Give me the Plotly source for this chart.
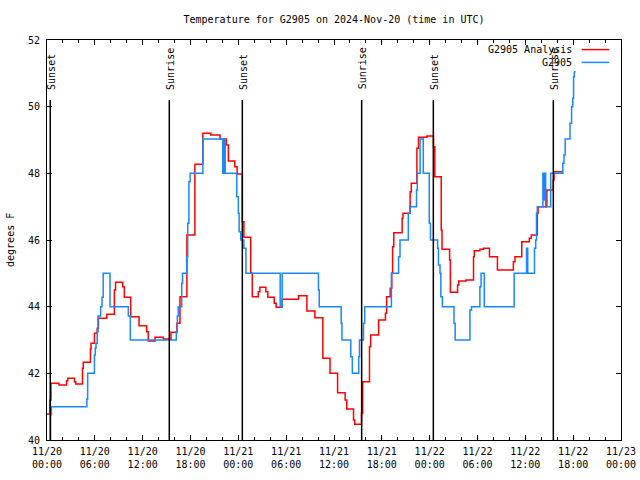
import pandas as pd
import plotly.graph_objects as go

# ---------------- data ----------------
START = "2024-11-20 00:00"
END = "2024-11-23 00:00"

# hours since 2024-11-20 00:00 UTC
red_name = "G2905 Analysis"
red_hours = [0.0, 0.38, 0.5, 1.5, 2.45, 2.6, 3.45, 3.6, 4.45, 4.55, 5.45, 5.52, 5.95, 6.3, 6.45,
             7.5, 8.45, 8.6, 9.5, 9.7, 10.5, 11.55, 12.5, 12.7, 13.55, 14.6, 15.55, 16.3, 16.68,
             17.55, 18.55, 19.55, 20.55, 21.7, 22.5, 22.75, 23.55, 23.85, 24.5, 24.7, 25.55, 25.75,
             26.5, 26.7, 27.45, 27.7, 28.5, 28.75, 29.5, 31.55, 32.6, 33.6, 34.6, 35.5, 36.45,
             37.4, 37.6, 38.45, 38.6, 39.45, 39.6, 40.45, 40.6, 41.6, 42.45, 42.6, 43.05, 43.25,
             43.35, 43.5, 44.55, 44.65, 45.55, 45.7, 46.4, 46.6, 47.65, 48.48, 48.65, 49.45, 49.55,
             50.5, 50.6, 51.5, 51.65, 52.56, 53.5, 53.6, 54.3, 54.75, 55.5, 56.5, 58.5, 58.7,
             59.55, 60.5, 60.75, 61.5, 61.6, 62.7, 63.5, 63.6, 64.6]
red_vals = [40.78, 41.2, 41.7, 41.65, 41.78, 41.85, 41.75, 41.68, 42.15, 42.33, 42.73, 42.9, 43.2, 43.35, 43.65,
            43.77, 44.5, 44.73, 44.6, 44.28, 43.7, 43.43, 43.25, 42.97, 43.08, 43.03, 43.23, 43.5, 44.3,
            46.15, 48.27, 49.2, 49.15, 49.03, 48.85, 48.37, 48.2, 47.98, 46.55, 46.08, 45.0, 44.3,
            44.45, 44.58, 44.45, 44.28, 44.1, 43.98, 44.22, 44.33, 43.87, 43.67, 42.45, 42.0, 41.42,
            41.2, 40.93, 40.6, 40.47, 40.8, 41.75, 42.8, 43.15, 43.6, 43.8, 44.3, 44.55, 45.0,
            45.8, 46.22, 46.65, 46.8, 47.45, 47.7, 48.75, 49.08, 49.12, 48.8, 47.9, 46.3, 45.72,
            45.4, 44.43, 44.65, 44.77, 44.8, 45.5, 45.68, 45.72, 45.75, 45.5, 45.1, 45.35, 45.5,
            45.95, 46.05, 46.15, 46.8, 47.0, 47.5, 47.8, 48.05, 48.05]

blue_name = "G2905"
blue_hours = [0.38, 0.45, 0.55, 5.0, 5.1, 5.95, 6.05, 6.15, 6.3, 6.4, 6.73, 6.9, 7.05, 7.9, 10.2, 10.45,
              16.22, 16.35, 16.47, 16.9, 17.0, 17.52, 17.65, 17.8, 17.95, 19.55, 22.05, 22.2, 22.35,
              23.8, 24.0, 24.1, 24.3, 24.7, 24.95, 29.25, 29.5, 34.05, 34.15, 36.9, 37.0, 38.1, 38.3,
              39.1, 39.2, 39.7, 39.85, 43.2, 44.1, 44.28, 45.32, 45.53, 46.35, 46.45, 46.8, 47.2,
              47.95, 48.1, 49.0, 49.1, 49.3, 49.4, 49.6, 51.05, 51.2, 53.05, 53.25, 54.3, 54.45,
              54.85, 58.6, 60.15, 60.3, 61.15, 61.3, 61.4, 61.5, 62.2, 62.3, 62.45, 62.55, 63.18,
              64.7, 64.85, 65.0, 65.6, 65.8, 65.95, 66.05, 66.15, 66.3]
blue_vals = [40.0, 40.75, 41.0, 41.23, 42.0, 42.55, 42.75, 42.9, 43.25, 43.72, 44.0, 44.28, 45.0, 44.0, 43.72, 43.0,
             43.25, 43.72, 44.0, 44.7, 45.0, 45.5, 46.5, 47.75, 48.0, 49.03, 48.0, 49.03, 48.0,
             47.3, 46.8, 46.25, 46.0, 45.75, 45.0, 44.0, 45.0, 44.5, 44.0, 43.5, 43.0, 42.5, 42.0,
             42.5, 43.0, 43.5, 44.0, 45.0, 45.5, 46.0, 46.8, 47.0, 47.5, 48.0, 49.03, 48.0,
             46.5, 46.0, 45.75, 45.25, 45.0, 44.3, 44.0, 43.5, 43.0, 43.9, 44.0, 44.6, 45.0,
             44.0, 45.0, 45.75, 45.0, 45.75, 46.0, 46.8, 47.0, 48.0, 47.2, 48.0, 47.0, 48.0,
             48.3, 48.55, 49.03, 49.5, 50.0, 50.25, 50.9, 51.05, 51.05]

sun_hours = [0.41, 15.34, 24.5, 39.47, 48.46, 63.51]
sun_labels = ["Sunset", "Sunrise", "Sunset", "Sunrise", "Sunset", "Sunrise"]

tick_times = ["2024-11-20 00:00", "2024-11-20 06:00", "2024-11-20 12:00", "2024-11-20 18:00",
              "2024-11-21 00:00", "2024-11-21 06:00", "2024-11-21 12:00", "2024-11-21 18:00",
              "2024-11-22 00:00", "2024-11-22 06:00", "2024-11-22 12:00", "2024-11-22 18:00",
              "2024-11-23 00:00"]
tick_labels = ["11/20<br>00:00", "11/20<br>06:00", "11/20<br>12:00", "11/20<br>18:00",
               "11/21<br>00:00", "11/21<br>06:00", "11/21<br>12:00", "11/21<br>18:00",
               "11/22<br>00:00", "11/22<br>06:00", "11/22<br>12:00", "11/22<br>18:00",
               "11/23<br>00:00"]
y_ticks = [40, 42, 44, 46, 48, 50, 52]

title_text = "Temperature for G2905 on 2024-Nov-20 (time in UTC)"
y_title = "degrees F"

RED = "#ff0000"
BLUE = "#1a86ff"
FONT = "DejaVu Sans Mono"

# --------------- figure ---------------
base = pd.Timestamp(START)
def to_time(hours):
    return base + pd.to_timedelta(hours, unit="h")

fig = go.Figure()
fig.add_trace(go.Scatter(x=to_time(red_hours), y=red_vals, mode="lines", name=red_name,
                         line=dict(color=RED, width=1.5, shape="hv")))
fig.add_trace(go.Scatter(x=to_time(blue_hours), y=blue_vals, mode="lines", name=blue_name,
                         line=dict(color=BLUE, width=1.5, shape="hv")))

sun_times = to_time(sun_hours)
for t, lab in zip(sun_times, sun_labels):
    fig.add_shape(type="line", xref="x", yref="y", x0=t, x1=t, y0=40, y1=50.2,
                  line=dict(color="black", width=1.5))
    fig.add_annotation(x=t, y=50.45, xref="x", yref="y", text=lab, textangle=-90,
                       showarrow=False, xanchor="center", yanchor="bottom", xshift=1,
                       font=dict(family=FONT, size=10, color="black"))

# manual gnuplot-style key (text right, sample line on the right)
for name, col, yp in [(red_name, RED, 0.976), (blue_name, BLUE, 0.944)]:
    fig.add_annotation(x=0.918, y=yp, xref="paper", yref="paper", text=name, showarrow=False,
                       xanchor="right", yanchor="middle", font=dict(family=FONT, size=10, color="black"))
    fig.add_shape(type="line", xref="paper", yref="paper", x0=0.9315, x1=0.9796, y0=yp, y1=yp,
                  line=dict(color=col, width=1.5))

fig.add_annotation(x=-0.0645, y=0.5, xref="paper", yref="paper", text=y_title, textangle=-90,
                   showarrow=False, xanchor="center", yanchor="middle",
                   font=dict(family=FONT, size=10, color="black"))

fig.update_layout(
    width=640, height=480, autosize=False,
    margin=dict(l=47, r=19, t=40, b=40, autoexpand=False),
    plot_bgcolor="white", paper_bgcolor="white",
    font=dict(family=FONT, size=10, color="black"),
    showlegend=False,
    title=dict(text=title_text, x=0.5, xref="paper", xanchor="center",
               y=1 - 19 / 480, yref="container", yanchor="middle",
               font=dict(family=FONT, size=10, color="black")),
)
fig.update_xaxes(range=[START, END], tickmode="array", tickvals=tick_times, ticktext=tick_labels,
                 ticks="inside", ticklen=5, tickwidth=1, tickcolor="black", automargin=False,
                 showline=True, linecolor="black", linewidth=1, mirror="ticks",
                 showgrid=False, zeroline=False, ticklabelstandoff=2,
                 minor=dict(ticks="inside", ticklen=3, tickcolor="black",
                            dtick=2 * 3600 * 1000, tick0=START, showgrid=False))
fig.update_yaxes(range=[40, 52], tickmode="array", tickvals=y_ticks,
                 ticks="inside", ticklen=5, tickwidth=1, tickcolor="black", automargin=False,
                 showline=True, linecolor="black", linewidth=1, mirror="ticks",
                 showgrid=False, zeroline=False, ticklabelstandoff=4)

fig.write_html("out.html", config={"displayModeBar": False},
               post_script="document.body.style.margin='0px';")
